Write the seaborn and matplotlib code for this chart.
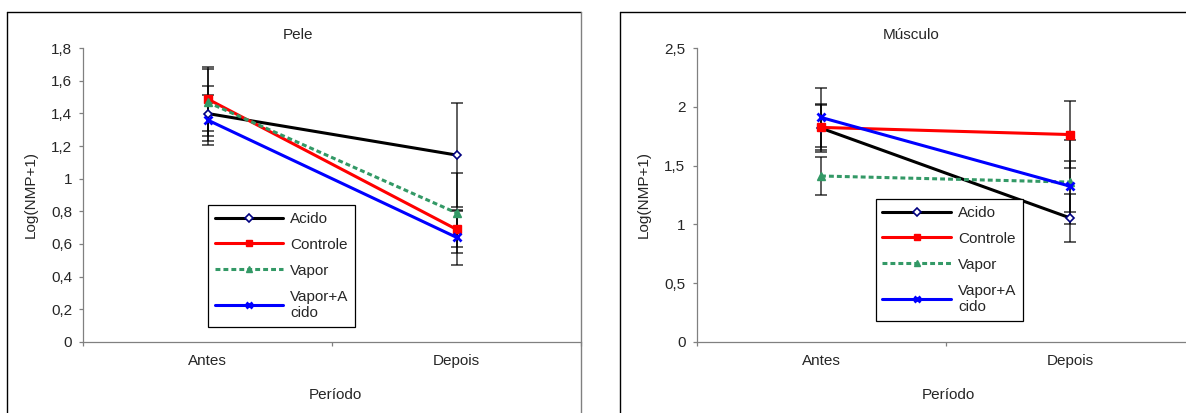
import matplotlib
matplotlib.use("Agg")
import matplotlib.pyplot as plt
import matplotlib.ticker as mticker
from matplotlib.lines import Line2D
import seaborn as sns

# data
periodos = ['Antes', 'Depois']
tratamentos = ['Acido', 'Controle', 'Vapor', 'Vapor+A\ncido']

pele_acido = [1.40, 1.145]
pele_controle = [1.489, 0.689]
pele_vapor = [1.469, 0.79]
pele_vapor_acido = [1.36, 0.64]
pele_err_acido = [0.168, 0.32]
pele_err_controle = [0.195, 0.11]
pele_err_vapor = [0.205, 0.246]
pele_err_vapor_acido = [0.155, 0.17]

musc_acido = [1.82, 1.055]
musc_controle = [1.826, 1.765]
musc_vapor = [1.412, 1.36]
musc_vapor_acido = [1.911, 1.325]
musc_err_acido = [0.205, 0.207]
musc_err_controle = [0.19, 0.282]
musc_err_vapor = [0.162, 0.36]
musc_err_vapor_acido = [0.253, 0.217]

# line styles per treatment (Excel look)
estilos = [
    dict(color='black', marker='D', ms=4.5, mfc='white', mec='#000080', mew=1.2, linestyle='-'),
    dict(color='#FF0000', marker='s', ms=6, mfc='#FF0000', mec='#FF0000', mew=1, linestyle='-'),
    dict(color='#339966', marker='^', ms=5.5, mfc='#339966', mec='#339966', mew=1, linestyle=(0, (1.6, 1.0))),
    dict(color='#0000FF', marker='x', ms=5.5, mfc='#0000FF', mec='#0000FF', mew=2, linestyle='-'),
]

sns.set_style("white")
plt.rcParams['font.family'] = ['Liberation Sans', 'DejaVu Sans']
plt.rcParams['font.size'] = 11

W, H = 1186, 413
fig = plt.figure(figsize=(W / 100, H / 100), dpi=100)


def virgula(v, pos):
    return f'{v:g}'.replace('.', ',')


def painel(ax, titulo, series, erros, ymax, ystep, titulo_x, leg_pos):
    # error bars first, so the lines sit on top
    for vals, err in zip(series, erros):
        ax.errorbar(periodos, vals, yerr=err, fmt='none', ecolor='black', alpha=0.8,
                    elinewidth=1.1, capsize=4.3, capthick=1.1, zorder=2)
    for vals, nome, st in zip(series, tratamentos, estilos):
        sns.lineplot(x=periodos, y=vals, ax=ax, label=nome, lw=2.2, sort=False, zorder=3, **st)

    ax.set_xlim(-0.5, 1.5)
    ax.set_ylim(0, ymax)
    ax.yaxis.set_major_locator(mticker.MultipleLocator(ystep))
    ax.yaxis.set_major_formatter(mticker.FuncFormatter(virgula))
    ax.xaxis.set_minor_locator(mticker.FixedLocator([-0.5, 0.5, 1.5]))

    for s in ['top', 'right']:
        ax.spines[s].set_visible(False)
    for s in ['left', 'bottom']:
        ax.spines[s].set_color('#808080')
        ax.spines[s].set_linewidth(0.9)
    ax.tick_params(axis='y', direction='out', length=3, width=0.9, color='#808080',
                   pad=5, labelsize=11, left=True)
    ax.tick_params(axis='x', which='major', length=0, pad=8.5, labelsize=11)
    ax.tick_params(axis='x', which='minor', direction='out', length=3, width=0.9,
                   color='#808080', bottom=True)

    ax.text(titulo_x, 1.046, titulo, transform=ax.transAxes, ha='center', va='center', fontsize=11)
    ax.set_xlabel('Período', fontsize=11, va='center')
    ax.xaxis.set_label_coords(0.506, -0.18)
    ax.set_ylabel('Log(NMP+1)', fontsize=11, va='center')
    ax.yaxis.set_label_coords(-0.106, 0.5)

    leg = ax.legend(loc='upper left', bbox_to_anchor=leg_pos, bbox_transform=fig.transFigure,
                    borderaxespad=0, frameon=True, fancybox=False, framealpha=1,
                    edgecolor='black', fontsize=11, handlelength=4.5, handletextpad=0.45,
                    borderpad=0.45, labelspacing=0.78, numpoints=1, markerscale=0.8)
    leg.get_frame().set_linewidth(0.9)
    leg.set_zorder(5)


ax1 = fig.add_axes([83.2 / W, (H - 341.7) / H, 497.8 / W, 293.4 / H])
painel(ax1, 'Pele',
       [pele_acido, pele_controle, pele_vapor, pele_vapor_acido],
       [pele_err_acido, pele_err_controle, pele_err_vapor, pele_err_vapor_acido],
       1.8, 0.2, 0.4315, (207.7 / W, 1 - 205 / H))

ax2 = fig.add_axes([696.5 / W, (H - 341.7) / H, 498 / W, 293.4 / H])
painel(ax2, 'Músculo',
       [musc_acido, musc_controle, musc_vapor, musc_vapor_acido],
       [musc_err_acido, musc_err_controle, musc_err_vapor, musc_err_vapor_acido],
       2.5, 0.5, 0.43, (875.6 / W, 1 - 199 / H))

# chart-area borders of the two Excel charts
def px(x, y):
    return x / W, 1 - y / H

for (x0, y0), (x1, y1), c in [
    ((6.8, 12.3), (580.7, 12.3), 'black'),
    ((6.8, 12.3), (6.8, 420), 'black'),
    ((580.7, 12.3), (580.7, 420), '#808080'),
    ((620.3, 12.3), (1200, 12.3), 'black'),
    ((620.3, 12.3), (620.3, 420), 'black'),
]:
    a, b = px(x0, y0)
    cc, d = px(x1, y1)
    fig.add_artist(Line2D([a, cc], [b, d], color=c, lw=1.0, transform=fig.transFigure))

fig.savefig('out.png', dpi=100)
